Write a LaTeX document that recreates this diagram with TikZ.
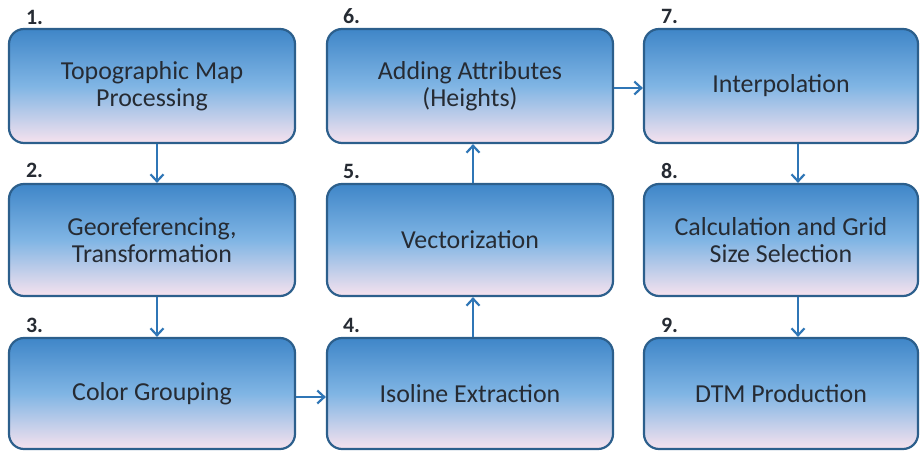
\documentclass[tikz,border=0pt]{standalone}
\usepackage{fontspec}
\setmainfont{Carlito}
\usetikzlibrary{arrows.meta,calc}
\definecolor{boxedge}{HTML}{2C5F8C}
\definecolor{boxtop}{HTML}{3F86C8}
\definecolor{boxmid}{HTML}{80B5E4}
\definecolor{boxbot}{HTML}{F6E2EE}
\definecolor{arrowc}{HTML}{2F76B6}
\definecolor{txt}{HTML}{262B33}
\tikzset{
  stepbox/.style={draw=boxedge, line width=2.2bp, rounded corners=15bp,
    top color=boxtop, bottom color=boxbot, middle color=boxmid,
    align=center, text=txt, inner sep=0pt,
    font=\fontsize{26}{27}\selectfont},
  numlbl/.style={anchor=base west, text=txt, inner sep=0pt,
    font=\fontsize{22}{22}\selectfont\bfseries},
  arr/.style={draw=arrowc, line width=2.4bp,
    -{Straight Barb[length=7bp,width=13bp,line width=2.2bp]}}
}
\begin{document}
\begin{tikzpicture}[x=1bp,y=-1bp]
\useasboundingbox (0,0) rectangle (924,453);
% column 1
\node[stepbox, minimum width=286bp, minimum height=114bp] (n1) at (152,86) {Topographic Map\\Processing};
\node[stepbox, minimum width=286bp, minimum height=112bp] (n2) at (152,240) {Georeferencing,\\Transformation};
\node[stepbox, minimum width=286bp, minimum height=111bp] (n3) at (152,393.5) {Color Grouping};
% column 2
\node[stepbox, minimum width=286bp, minimum height=111bp] (n4) at (470,393.5) {Isoline Extraction};
\node[stepbox, minimum width=286bp, minimum height=112bp] (n5) at (470,240) {Vectorization};
\node[stepbox, minimum width=286bp, minimum height=114bp] (n6) at (470,86) {Adding Attributes\\(Heights)};
% column 3
\node[stepbox, minimum width=274bp, minimum height=114bp] (n7) at (781,86) {Interpolation};
\node[stepbox, minimum width=274bp, minimum height=112bp] (n8) at (781,240) {Calculation and Grid\\Size Selection};
\node[stepbox, minimum width=274bp, minimum height=111bp] (n9) at (781,393.5) {DTM Production};
% number labels
\node[numlbl] (l1) at ($(n1.north west)+(18,-3)$) {1.};
\node[numlbl] (l2) at ($(n2.north west)+(18,-5)$) {2.};
\node[numlbl] (l3) at ($(n3.north west)+(18,-4)$) {3.};
\node[numlbl] (l4) at ($(n4.north west)+(17,-4)$) {4.};
\node[numlbl] (l5) at ($(n5.north west)+(17,-4)$) {5.};
\node[numlbl] (l6) at ($(n6.north west)+(17,-4)$) {6.};
\node[numlbl] (l7) at ($(n7.north west)+(18,-4)$) {7.};
\node[numlbl] (l8) at ($(n8.north west)+(18,-4)$) {8.};
\node[numlbl] (l9) at ($(n9.north west)+(18,-4)$) {9.};
% connectors
\draw[arr] (n1.south -| 157,0) -- (n2.north -| 157,0);
\draw[arr] (n2.south -| 157,0) -- (n3.north -| 157,0);
\draw[arr] (n3.east |- 0,397) -- (n4.west |- 0,397);
\draw[arr] (n4.north -| 473,0) -- (n5.south -| 473,0);
\draw[arr] (n5.north -| 473,0) -- (n6.south -| 473,0);
\draw[arr] (n6.east |- 0,88) -- (n7.west |- 0,88);
\draw[arr] (n7.south -| 798,0) -- (n8.north -| 798,0);
\draw[arr] (n8.south -| 798,0) -- (n9.north -| 798,0);
\end{tikzpicture}
\end{document}
